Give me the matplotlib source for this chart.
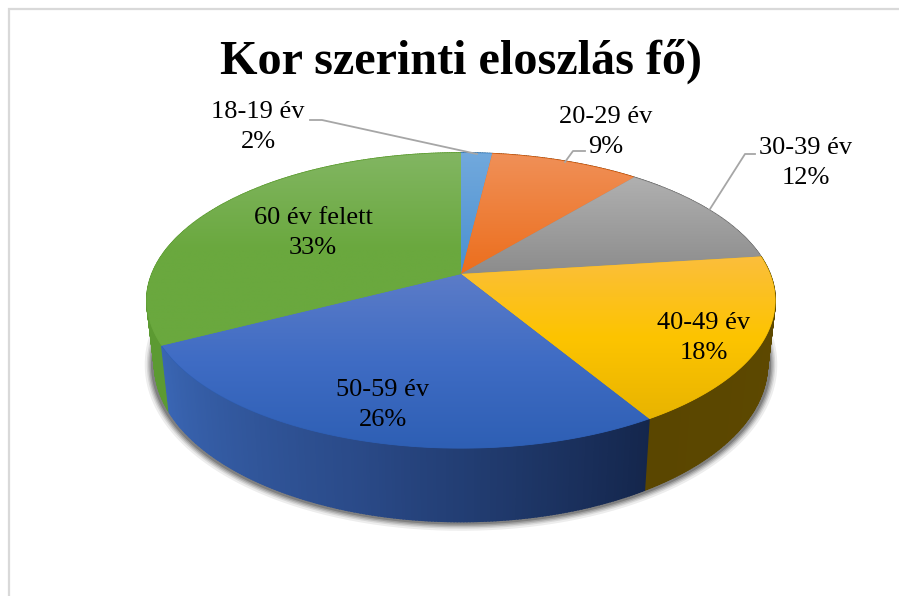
import numpy as np
import matplotlib
matplotlib.use("Agg")
import matplotlib.pyplot as plt
from matplotlib.colors import LinearSegmentedColormap as LSC
from matplotlib.patches import Polygon

title = "Kor szerinti eloszlás fő)"
categories = ["18-19 év", "20-29 év", "30-39 év", "40-49 év", "50-59 év", "60 év felett"]
values = [1.9, 9.1, 12.0, 18.4, 26.0, 32.6]
percent_labels = ["2%", "9%", "12%", "18%", "26%", "33%"]

top_colors = [["#72a9dd", "#4a90d0"], ["#f09058", "#ec6e1c"], ["#b0b0b0", "#8c8c8c"],
              ["#fbbe3c", "#fdc400", "#e8b400"], ["#5c7cc8", "#3f6cc4", "#2e5fb4"],
              ["#82b662", "#6aa83e", "#6aa83e"]]
side_colors = [["#2e6da4", "#2e6da4"], ["#a04a10", "#a04a10"], ["#666666", "#666666"],
               ["#5f4a00", "#5a4600"], ["#14264c", "#2a4a88", "#3a66b4"], ["#5c9a32", "#5c9a32"]]
label_pos = [(258, 127), (606, 132), (806, 163), (704, 338), (383, 405), (313, 233)]
leaders = [[(310, 120), (322, 120), (477, 154)],
           [(585, 151), (573, 151), (565, 162)],
           [(755, 154), (745, 154), (710, 209)]]

CX, CY = 461.0, 274.0
B, A, K = 309.0, 142.8, 0.18      # perspective of the pie's top face
SX, SY, D = 0.975, 1.065, 62.0    # offset of the pie's lower face


def top(theta):
    X, Y = np.sin(theta), np.cos(theta)
    w = 1 + K * Y
    return B * X / w, -A * Y / w


def bottom(theta):
    dx, dy = top(theta)
    return CX + SX * dx, CY + SY * dy + D


fig = plt.figure(figsize=(8.99, 5.96), dpi=100, facecolor="white")
ax = fig.add_axes([0, 0, 1, 1])
ax.axis("off")
plt.rcParams["font.family"] = ["Liberation Serif", "DejaVu Serif"]

# chart frame (top and left edges only are visible)
ax.plot([9, 9, 899], [596, 9, 9], color="#d9d9d9", lw=1.6, zorder=1, solid_joinstyle="miter")

# soft shadow
th = np.linspace(0, 2 * np.pi, 721)
bx, by = bottom(th)
for lw, al in zip([13, 10, 8, 6, 4], [.07, .09, .12, .15, .2]):
    ax.plot(bx + np.sign(bx - CX) * 1.0, by + 0.3, color="k", alpha=al, lw=lw, zorder=2)

edges = np.cumsum([0] + values) / sum(values) * 2 * np.pi

# side walls: back to front
quads = []
for i in range(len(values)):
    a0, a1 = edges[i], edges[i + 1]
    cm = LSC.from_list("s", side_colors[i])
    n = max(int(np.degrees(a1 - a0) * 2), 2)
    t = np.linspace(a0, a1, n + 1)
    for j in range(n):
        quads.append((a0 + (j + .5) / n * (a1 - a0), t[j], t[j + 1], cm((j + .5) / n)))
quads.sort(key=lambda q: top(q[0])[1])
for _, t0, t1, col in quads:
    tt = np.linspace(t0, t1, 3)
    dx, dy = top(tt)
    ux, uy = CX + dx, CY + dy
    lx, ly = bottom(tt)
    ax.fill(np.r_[ux, lx[::-1]], np.r_[uy, ly[::-1]], fc=col, ec=col, lw=1.2, zorder=3)

# top faces with vertical shading
for i in range(len(values)):
    t = np.linspace(edges[i], edges[i + 1], 200)
    dx, dy = top(t)
    xs = np.r_[CX, CX + dx]
    ys = np.r_[CY, CY + dy]
    cols = top_colors[i]
    poly = Polygon(np.c_[xs, ys], closed=True, fc=cols[-1], ec=cols[-1], lw=0.6, zorder=4)
    ax.add_patch(poly)
    grad = LSC.from_list("t", cols)(np.linspace(0, 1, 256))[:, None, :3]
    im = ax.imshow(grad, extent=[xs.min(), xs.max(), ys.max(), ys.min()], aspect="auto",
                   interpolation="bilinear", zorder=5)
    im.set_clip_path(Polygon(np.c_[xs, ys], closed=True, transform=ax.transData))

ax.set_xlim(0, 899)
ax.set_ylim(596, 0)

for pts in leaders:
    p = np.array(pts)
    ax.plot(p[:, 0], p[:, 1], color="#a6a6a6", lw=1.3, zorder=6)

for cat, pct, (x, y) in zip(categories, percent_labels, label_pos):
    ax.text(x, y, f"{cat}\n{pct}", ha="center", va="center", fontsize=19,
            linespacing=1.5, color="black", zorder=7)

ax.text(461.5, 61, title, ha="center", va="center", fontsize=34.7, fontweight="bold",
        color="black", zorder=7)

fig.savefig("out.png", dpi=100, facecolor="white")
